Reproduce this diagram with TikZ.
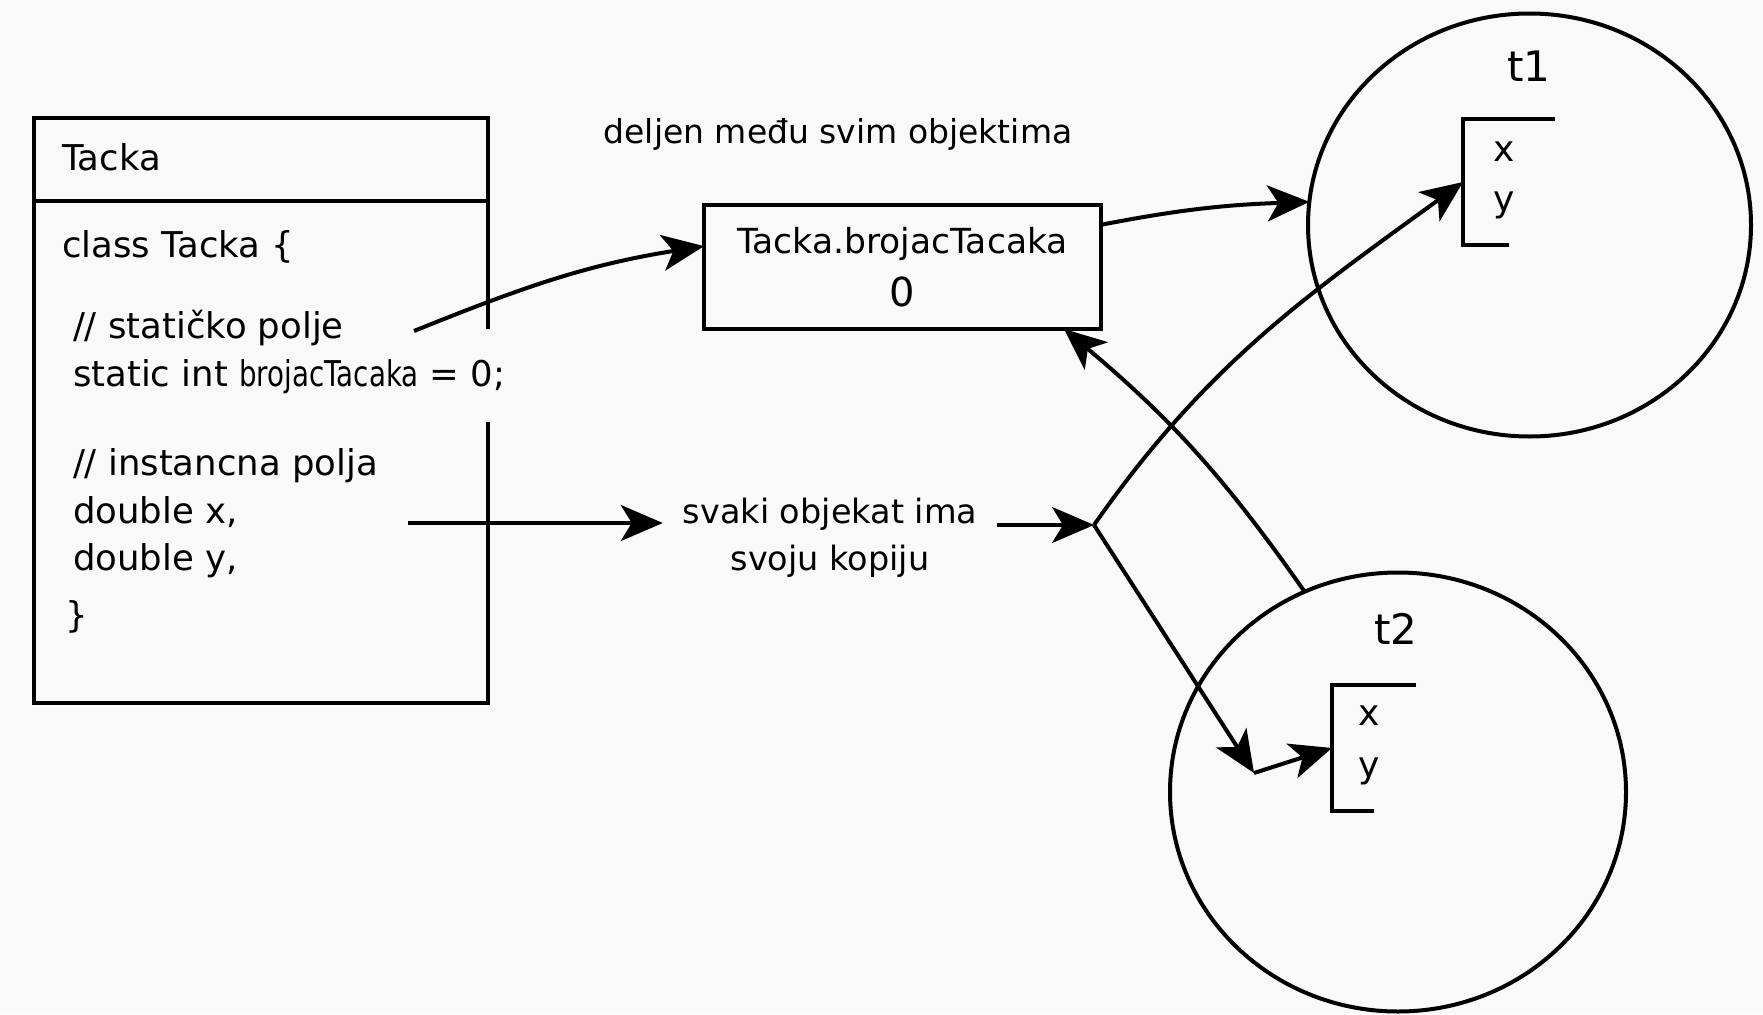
\documentclass[tikz,border=0pt]{standalone}
\usepackage{fontspec}
\usepackage{graphicx}
\setmainfont{DejaVu Sans}
\usetikzlibrary{arrows.meta,shapes.geometric}
\definecolor{bg}{RGB}{249,249,249}
\begin{document}
\begin{tikzpicture}[x=1pt,y=1pt,
  every node/.style={inner sep=0pt, outer sep=0pt},
  txt/.style={font=\fontsize{33}{40}\selectfont},
  code/.style={font=\fontsize{35.5}{42}\selectfont},
  lbl/.style={font=\fontsize{42}{48}\selectfont},
  fld/.style={font=\fontsize{36}{40}\selectfont},
  ln/.style={line width=4pt},
  arr/.style={line width=4pt, -{Stealth[length=42pt,width=36pt,inset=11pt]}},
  circ/.style={draw, ellipse, line width=4pt}
]
\useasboundingbox (0,0) rectangle (1763,-1014);
\fill[bg] (0,0) rectangle (1763,-1014);

% class box
\node[minimum width=454pt, minimum height=585pt, anchor=north west] (cls) at (34,-118) {};
\draw[ln, line join=miter] ([yshift=-211pt]cls.north east) -- (cls.north east) -- (cls.north west)
  -- (cls.south west) -- (cls.south east) -- ([yshift=281pt]cls.south east);
\draw[ln] ([yshift=-83pt]cls.north west) -- ([yshift=-83pt]cls.north east);

\node[code, anchor=base west] (hdr) at (62,-170) {Tacka};
\node[code, anchor=base west] (l1) at (62,-257) {class Tacka \{};
\node[code, anchor=base west] (l2) at (73,-338) {// statičko polje};
\node[code, anchor=base west] (l3) at (73,-386) {static int \scalebox{0.78}[1]{brojacTacaka} = 0;};
\node[code, anchor=base west] (l4) at (73,-475) {// instancna polja};
\node[code, anchor=base west] (l5) at (73,-523) {double x,};
\node[code, anchor=base west] (l6) at (73,-570) {double y,};
\node[code, anchor=base west] (l7) at (65,-627) {\}};

% static field box
\node[txt, anchor=base] (dl) at (838,-143) {deljen među svim objektima};
\node[draw, ln, minimum width=397pt, minimum height=124pt, align=center,
      font=\fontsize{34.5}{53}\selectfont] (sb) at (902.5,-267)
      {Tacka.brojacTacaka\\{\fontsize{40}{53}\selectfont 0}};

% per-object text
\node[align=center, inner xsep=20pt, font=\fontsize{33.5}{47}\selectfont] (sv) at (830,-538)
  {svaki objekat ima\\svoju kopiju};

% objects
\node[circ, minimum width=443pt, minimum height=423pt] (t1c) at (1529.5,-225) {};
\node[lbl, anchor=base] (t1l) at (1529,-82) {t1};
\node[minimum width=92pt, minimum height=126pt, anchor=north west] (b1) at (1463,-119) {};
\draw[ln] (b1.north east) -- (b1.north west) -- (b1.south west) -- ([xshift=46pt]b1.south west);
\node[fld, anchor=base] (b1x) at (1504,-161) {x};
\node[fld, anchor=base] (b1y) at (1504,-211) {y};

\node[circ, minimum width=456pt, minimum height=439pt] (t2c) at (1398,-792) {};
\node[lbl, anchor=base] (t2l) at (1396,-644) {t2};
\node[minimum width=84pt, minimum height=126pt, anchor=north west] (b2) at (1332,-685) {};
\draw[ln] (b2.north east) -- (b2.north west) -- (b2.south west) -- ([xshift=42pt]b2.south west);
\node[fld, anchor=base] (b2x) at (1369,-725) {x};
\node[fld, anchor=base] (b2y) at (1369,-777) {y};

% connector points
\coordinate (s1) at (414,-331);
\coordinate (s2) at (408,-523);
\coordinate (J) at (1094,-525);
\coordinate (K) at (1254,-773);

% connectors
\draw[arr] (s1) to[out=22,in=189] (sb.174);
\draw[arr] (sb.12) to[out=11,in=182] (t1c.174);
\draw[arr] (t2c.115) to[out=125,in=-40] (sb.-21);
\draw[arr] (s2) -- (s2 -| sv.west);
\draw[arr] (sv.east |- J) -- (J);
\draw[arr] (J) to[out=55,in=216] (b1.west);
\draw[arr] (J) -- (K);
\draw[arr] (K) -- (b2.west);
\end{tikzpicture}
\end{document}
